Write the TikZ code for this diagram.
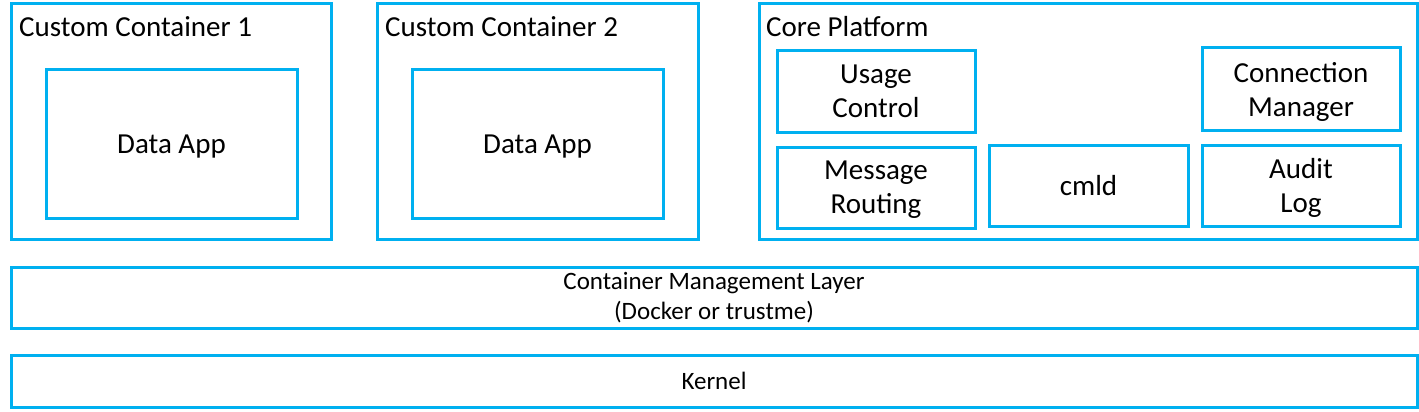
\documentclass[tikz,border=0pt]{standalone}
\usepackage{fontspec}
\setmainfont{Carlito}
\usetikzlibrary{positioning}
\definecolor{boxblue}{HTML}{00B0F0}
\tikzset{
  frame/.style={
      draw=boxblue,
      line width=3pt,
      rectangle,
      anchor=north west,
      outer sep=0pt,
      inner sep=0pt,
      align=center,
  },
  box/.style={
      frame,
      text depth=0pt,
      font=\fontsize{29}{34}\selectfont,
  },
  layer/.style={
      frame,
      font=\fontsize{25}{30}\selectfont,
  },
  title/.style={
      anchor=base west,
      inner sep=0pt,
      font=\fontsize{29}{34}\selectfont,
  },
}
\begin{document}
\begin{tikzpicture}[x=1pt,y=-1pt]
  \useasboundingbox (0,0) rectangle (1419,412);
  % custom containers
  \node[frame,minimum width=320pt,minimum height=235pt](cc1) at (11,4){};
  \node[title](cc1t) at (19,37){Custom Container 1};
  \node[box,minimum width=251pt,minimum height=148pt](app1) at (46,70){Data App};
  \node[frame,minimum width=321pt,minimum height=235pt](cc2) at (377,4){};
  \node[title](cc2t) at (385,37){Custom Container 2};
  \node[box,minimum width=251pt,minimum height=148pt](app2) at (412,70){Data App};
  % core platform
  \node[frame,minimum width=658pt,minimum height=235pt](core) at (759,4){};
  \node[title](coret) at (766,37){Core Platform};
  \node[box,minimum width=198pt,minimum height=81pt](uc) at (777,51){Usage\\Control};
  \node[box,minimum width=198pt,minimum height=82pt](cm) at (1202,48){Connection\\Manager};
  \node[box,minimum width=198pt,minimum height=81pt](mr) at (777,147){Message\\Routing};
  \node[box,minimum width=199pt,minimum height=81pt](cmld) at (989,145){cmld};
  \node[box,minimum width=198pt,minimum height=81pt](al) at (1202,145){Audit\\Log};
  % layers
  \node[layer,minimum width=1406pt,minimum height=61pt](cml) at (11,267){Container Management Layer\\(Docker or trustme)};
  \node[layer,minimum width=1406pt,minimum height=52pt](kern) at (11,355){Kernel};
\end{tikzpicture}
\end{document}
